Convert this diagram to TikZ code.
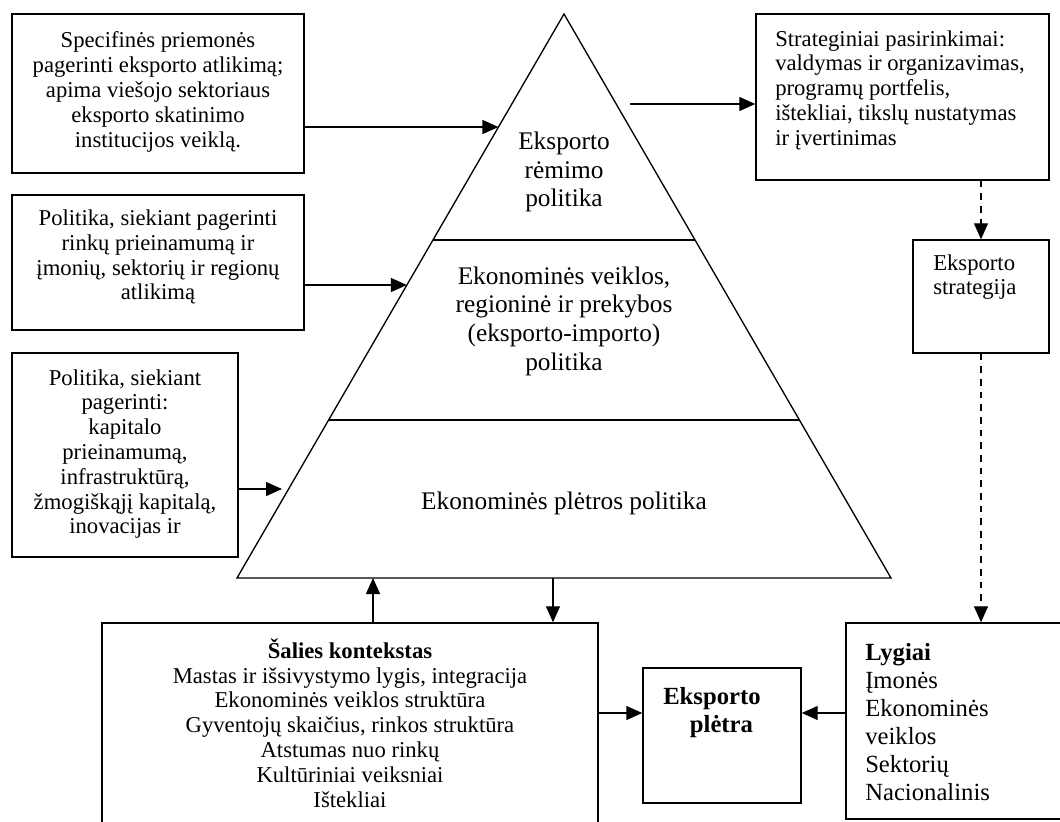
\documentclass[tikz,border=0pt]{standalone}
\usepackage{fontspec}
\setmainfont{Liberation Serif}
\usetikzlibrary{arrows.meta,calc,fit}
\begin{document}
\begin{tikzpicture}[x=0.75pt,y=-0.75pt,
  box/.style={draw,line width=1.1pt,inner sep=0pt},
  txt/.style={font=\fontsize{17}{18.6}\selectfont,inner sep=0pt,align=center},
  tritxt/.style={font=\fontsize{19}{21.5}\selectfont,inner sep=0pt,align=center},
  lvltxt/.style={font=\fontsize{18.5}{21}\selectfont,inner sep=0pt,align=left},
  edge/.style={line width=1pt},
  arr/.style={line width=1pt,-{Triangle[length=12pt,width=10.5pt]}},
  darr/.style={arr,dash pattern=on 5pt off 4.5pt},
]
% page area
\fill[white] (0,0) rectangle (1060,821);
\useasboundingbox (0,0) rectangle (1060,821);

% pyramid
\coordinate (apex) at (564,14);
\coordinate (bl) at (237,578);
\coordinate (br) at (891,578);
\draw[edge,line join=miter] (apex) -- (bl) -- (br) -- cycle;
\draw[edge] ($(apex)!0.4007!(bl)$) -- ($(apex)!0.4007!(br)$);
\draw[edge] ($(apex)!0.7199!(bl)$) -- ($(apex)!0.7199!(br)$);

\node[tritxt] (lev1) at (564,172) {Eksporto\\rėmimo\\politika};
\node[tritxt] (lev2) at (564,321) {Ekonominės veiklos,\\regioninė ir prekybos\\(eksporto-importo)\\politika};
\node[tritxt] (lev3) at (564,503) {Ekonominės plėtros politika};

% boxes
\node[box,fit={(12,14) (304,173)}] (spec) {};
\node[box,fit={(756,14) (1049,180)}] (strat) {};
\node[box,fit={(12,195) (304,330)}] (rink) {};
\node[box,fit={(12,353) (238,557)}] (kap) {};
\node[box,fit={(913,240) (1049,353)}] (estr) {};
\node[box,fit={(102,623) (598,835)}] (salis) {};
\node[box,fit={(643,668) (801,803)}] (pletra) {};
\node[box,fit={(846,623) (1075,819)}] (lyg) {};

% box texts
\node[txt] (specT) at (158,92) {Specifinės priemonės\\pagerinti eksporto atlikimą;\\apima viešojo sektoriaus\\eksporto skatinimo\\institucijos veiklą.};
\node[txt,align=left,anchor=west] (stratT) at (775,90) {Strateginiai pasirinkimai:\\valdymas ir organizavimas,\\programų portfelis,\\ištekliai, tikslų nustatymas\\ir įvertinimas};
\node[txt] (rinkT) at (158,257) {Politika, siekiant pagerinti\\rinkų prieinamumą ir\\įmonių, sektorių ir regionų\\atlikimą};
\node[txt] (kapT) at (125,454) {Politika, siekiant\\pagerinti:\\kapitalo\\prieinamumą,\\infrastruktūrą,\\žmogiškąjį kapitalą,\\inovacijas ir};
\node[txt,align=left,anchor=west] (estrT) at (933,277) {Eksporto\\strategija};
\node[txt] (salisT) at (350,723) {\textbf{Šalies kontekstas}\\Mastas ir išsivystymo lygis, integracija\\Ekonominės veiklos struktūra\\Gyventojų skaičius, rinkos struktūra\\Atstumas nuo rinkų\\Kultūriniai veiksniai\\Ištekliai};
\node[lvltxt,font=\fontsize{18.5}{21}\selectfont\bfseries,anchor=west] (pletraT) at (663,713) {Eksporto\\\hspace{20pt}plėtra};
\node[lvltxt,anchor=west] (lygT) at (865,722) {\textbf{Lygiai}\\Įmonės\\Ekonominės\\veiklos\\Sektorių\\Nacionalinis};

% arrow end points on the pyramid sides
\coordinate (inA) at ($(apex)!0.2004!(bl)$);
\coordinate (inB) at ($(apex)!0.4805!(bl)$);
\coordinate (inC) at (282,489);
\coordinate (outA) at (630,104);

% connectors
\draw[arr] (inA -| spec.east) -- (inA);
\draw[arr] (inB -| rink.east) -- (inB);
\draw[arr] (inC -| kap.east) -- (inC);
\draw[arr] (outA) -- (outA -| strat.west);
\draw[arr] (salis.north -| 373,0) -- (373,578);
\draw[arr] (553,578) -- (salis.north -| 553,0);
\draw[arr] (salis.east |- 0,713) -- (pletra.west |- 0,713);
\draw[arr] (lyg.west |- 0,713) -- (pletra.east |- 0,713);
\draw[darr] (strat.south -| 981,0) -- (estr.north -| 981,0);
\draw[darr] (estr.south -| 981,0) -- (lyg.north -| 981,0);
\end{tikzpicture}
\end{document}
